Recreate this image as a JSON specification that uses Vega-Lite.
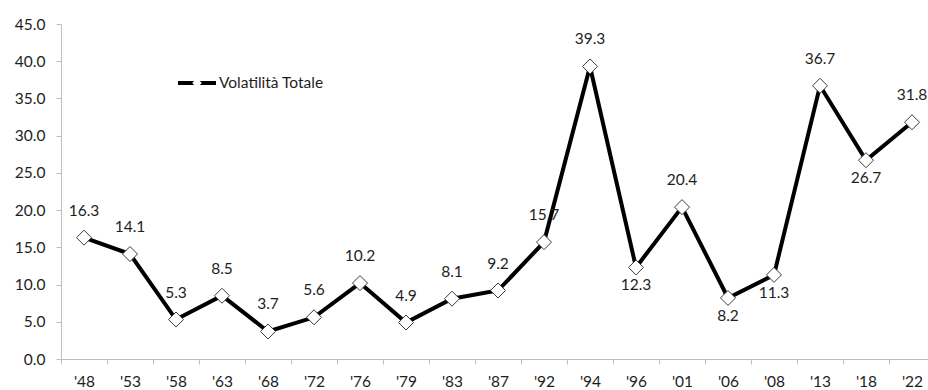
{
  "$schema": "https://vega.github.io/schema/vega-lite/v6.json",
  "width": 867,
  "height": 335,
  "autosize": "none",
  "padding": {"left": 61, "top": 24, "right": 0, "bottom": 31},
  "background": "white",
  "config": {
    "view": {"stroke": null},
    "font": "Lato",
    "axis": {
      "domainColor": "#bfbfbf",
      "tickColor": "#bfbfbf",
      "tickSize": 5,
      "grid": false,
      "labelFont": "Lato",
      "labelFontSize": 15.5,
      "labelColor": "#1e1e1e",
      "title": null
    }
  },
  "data": {
    "values": [
      {"anno": "'48", "valore": 16.3, "serie": "Volatilità Totale"},
      {"anno": "'53", "valore": 14.1, "serie": "Volatilità Totale"},
      {"anno": "'58", "valore": 5.3, "serie": "Volatilità Totale"},
      {"anno": "'63", "valore": 8.5, "serie": "Volatilità Totale"},
      {"anno": "'68", "valore": 3.7, "serie": "Volatilità Totale"},
      {"anno": "'72", "valore": 5.6, "serie": "Volatilità Totale"},
      {"anno": "'76", "valore": 10.2, "serie": "Volatilità Totale"},
      {"anno": "'79", "valore": 4.9, "serie": "Volatilità Totale"},
      {"anno": "'83", "valore": 8.1, "serie": "Volatilità Totale"},
      {"anno": "'87", "valore": 9.2, "serie": "Volatilità Totale"},
      {"anno": "'92", "valore": 15.7, "serie": "Volatilità Totale"},
      {"anno": "'94", "valore": 39.3, "serie": "Volatilità Totale"},
      {"anno": "'96", "valore": 12.3, "serie": "Volatilità Totale"},
      {"anno": "'01", "valore": 20.4, "serie": "Volatilità Totale"},
      {"anno": "'06", "valore": 8.2, "serie": "Volatilità Totale"},
      {"anno": "'08", "valore": 11.3, "serie": "Volatilità Totale"},
      {"anno": "'13", "valore": 36.7, "serie": "Volatilità Totale"},
      {"anno": "'18", "valore": 26.7, "serie": "Volatilità Totale"},
      {"anno": "'22", "valore": 31.8, "serie": "Volatilità Totale"}
    ]
  },
  "encoding": {
    "x": {
      "field": "anno",
      "type": "nominal",
      "sort": null,
      "scale": {"type": "band", "range": [0, 874], "paddingInner": 0, "paddingOuter": 0},
      "axis": {"labelAngle": 0, "tickBand": "extent", "labelPadding": 10}
    },
    "y": {
      "field": "valore",
      "type": "quantitative",
      "scale": {"domain": [0, 45], "nice": false},
      "axis": {"values": [0, 5, 10, 15, 20, 25, 30, 35, 40, 45], "format": ".1f", "labelPadding": 11}
    }
  },
  "layer": [
    {
      "mark": {"type": "line", "color": "black", "strokeWidth": 4},
      "encoding": {
        "color": {
          "field": "serie",
          "type": "nominal",
          "scale": {"range": ["black"]},
          "legend": {
            "orient": "none",
            "legendX": 115,
            "legendY": 38,
            "title": null,
            "padding": 0,
            "symbolType": "stroke",
            "symbolSize": 1444,
            "symbolStrokeWidth": 4,
            "symbolStrokeColor": "black",
            "labelFont": "Lato",
            "labelFontSize": 15.5,
            "labelColor": "#1e1e1e",
            "labelOffset": 1
          }
        }
      }
    },
    {
      "mark": {"type": "point", "filled": true, "fill": "white", "stroke": "#3a3a3a", "strokeWidth": 1, "size": 3906, "opacity": 1},
      "encoding": {
        "shape": {
          "field": "serie",
          "type": "nominal",
          "scale": {"domain": ["Volatilità Totale"], "range": ["M0,-0.24L0.24,0L0,0.24L-0.24,0Z"]},
          "legend": {
            "orient": "none",
            "legendX": 115,
            "legendY": 38,
            "title": null,
            "padding": 0,
            "symbolSize": 1600,
            "symbolFillColor": "white",
            "symbolStrokeColor": "#3a3a3a",
            "symbolStrokeWidth": 1.2,
            "symbolOpacity": 1,
            "labelFont": "Lato",
            "labelFontSize": 15.5,
            "labelOpacity": 0,
            "labelOffset": 1
          }
        }
      }
    },
    {
      "transform": [{"filter": {"not": {"field": "anno", "oneOf": ["'96", "'06", "'08", "'18"]}}}],
      "mark": {"type": "text", "dy": -27, "font": "Lato", "fontSize": 15.5, "color": "#1e1e1e"},
      "encoding": {"text": {"field": "valore", "type": "quantitative", "format": ".1f"}}
    },
    {
      "transform": [{"filter": {"field": "anno", "oneOf": ["'96", "'06", "'08", "'18"]}}],
      "mark": {"type": "text", "dy": 18, "font": "Lato", "fontSize": 15.5, "color": "#1e1e1e"},
      "encoding": {"text": {"field": "valore", "type": "quantitative", "format": ".1f"}}
    }
  ]
}
